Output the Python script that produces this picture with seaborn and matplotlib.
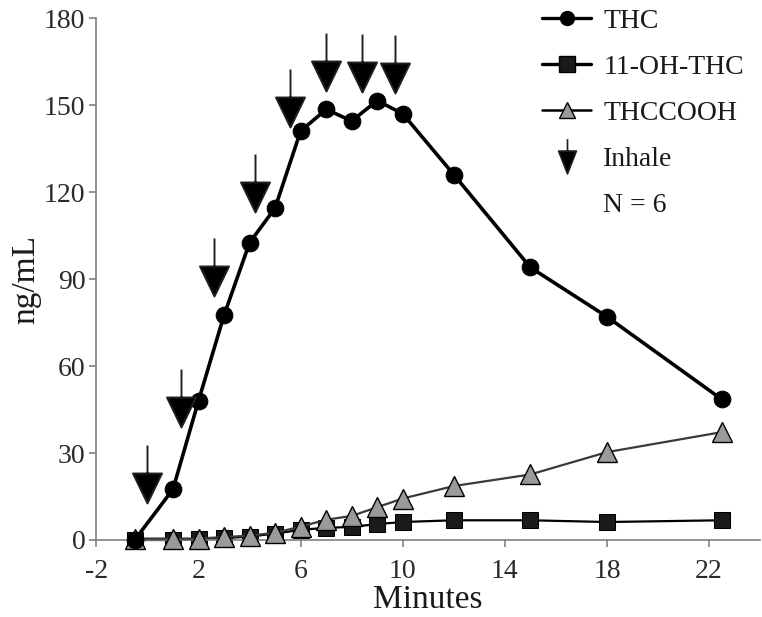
import numpy as np
import matplotlib
matplotlib.use("Agg")
import matplotlib.pyplot as plt
from matplotlib.path import Path
from matplotlib.lines import Line2D
import seaborn as sns

# ---------------------------------------------------------------------------
# Data
# ---------------------------------------------------------------------------
minutes = [-0.5, 1, 2, 3, 4, 5, 6, 7, 8, 9, 10, 12, 15, 18, 22.5]
thc = [0, 17.5, 48, 77.5, 102.5, 114.5, 141, 148.5, 144.5, 151.5, 147, 126, 94, 77, 48.5]
oh_thc = [0, 0, 0.3, 0.6, 1.2, 2.2, 3.5, 4.2, 4.5, 5.5, 6.2, 6.8, 6.8, 6.2, 6.8]
thccooh = [0.5, 0.5, 0.5, 1, 1.5, 2.5, 4.6, 7, 8.3, 11.3, 14.3, 18.6, 22.6, 30.3, 37.2]

inhale_minutes = [0, 1.3, 2.6, 4.2, 5.6, 7.0, 8.4, 9.7]
inhale_tip = [12.8, 39, 84, 113, 142.5, 155, 154.5, 154]

x_ticks = [-2, 2, 6, 10, 14, 18, 22]
y_ticks = [0, 30, 60, 90, 120, 150, 180]


def arrow_marker(head_w, head_h, shaft, centered=False):
    """Down arrow as a marker path; tip sits on the data point unless centered."""
    off = -(head_h + shaft) / 2 if centered else 0
    verts = [(0, off), (-head_w / 2, head_h + off), (head_w / 2, head_h + off), (0, off),
             (0, head_h + off), (0, head_h + shaft + off)]
    codes = [Path.MOVETO, Path.LINETO, Path.LINETO, Path.CLOSEPOLY, Path.MOVETO, Path.LINETO]
    return Path(verts, codes)


sns.set_theme(style="ticks")
plt.rcParams["font.family"] = ["Liberation Serif", "DejaVu Serif"]
plt.rcParams["axes.unicode_minus"] = False

fig = plt.figure(figsize=(7.62, 6.17), dpi=100)
ax = fig.add_axes([0.1265, 0.1248, 0.871, 0.846])

line_kw = dict(clip_on=False, markeredgecolor="black")
sns.lineplot(x=minutes, y=thccooh, ax=ax, color="#3a3a3a", linewidth=1.6,
             marker="^", markersize=14, markerfacecolor="#9a9a9a", markeredgewidth=1.0,
             zorder=3, **line_kw)
sns.lineplot(x=minutes, y=oh_thc, ax=ax, color="black", linewidth=1.6,
             marker="s", markersize=12, markerfacecolor="#1a1a1a", zorder=2, **line_kw)
sns.lineplot(x=minutes, y=thc, ax=ax, color="black", linewidth=2.6,
             marker="o", markersize=12, markerfacecolor="black", zorder=4, **line_kw)

# inhale arrows
arrow = arrow_marker(29, 30, 28)
ax.plot(inhale_minutes, inhale_tip, linestyle="none", marker=arrow, markersize=83.5,
        markerfacecolor="black", markeredgecolor="#202020", markeredgewidth=1.4,
        zorder=5, clip_on=False)

ax.set_xlim(-2, 24)
ax.set_ylim(0, 180)
ax.set_xticks(x_ticks)
ax.set_yticks(y_ticks)
ax.tick_params(axis="both", labelsize=20, colors="#808080", labelcolor="#2a2a2a",
               length=5, width=1.2, direction="out")
ax.tick_params(axis="x", pad=9)
ax.tick_params(axis="y", pad=3)
for side in ["top", "right"]:
    ax.spines[side].set_visible(False)
for side in ["left", "bottom"]:
    ax.spines[side].set_color("#808080")
    ax.spines[side].set_linewidth(1.2)

ax.set_xlabel("Minutes", fontsize=24, color="#1a1a1a", labelpad=0)
ax.set_ylabel("ng/mL", fontsize=24, color="#1a1a1a", labelpad=2)

handles = [
    Line2D([], [], color="black", linewidth=2.4, marker="o", markersize=10,
           markerfacecolor="black", markeredgecolor="black"),
    Line2D([], [], color="black", linewidth=2.4, marker="s", markersize=11,
           markerfacecolor="#1a1a1a", markeredgecolor="black"),
    Line2D([], [], color="black", linewidth=1.8, marker="^", markersize=12,
           markerfacecolor="#9a9a9a", markeredgecolor="black"),
    Line2D([], [], linestyle="none", marker=arrow_marker(18, 23, 12, centered=True),
           markersize=25, markerfacecolor="black", markeredgecolor="#202020",
           markeredgewidth=1.2),
    Line2D([], [], linestyle="none"),
]
labels = ["THC", "11-OH-THC", "THCCOOH", "Inhale", "N = 6"]
leg = ax.legend(handles, labels, loc="upper left", bbox_to_anchor=(0.655, 1.04),
                frameon=False, fontsize=20, handlelength=1.75, handletextpad=0.45,
                labelspacing=0.74, borderaxespad=0)
for t in leg.get_texts():
    t.set_color("#1a1a1a")

fig.savefig("out.png", dpi=100)
